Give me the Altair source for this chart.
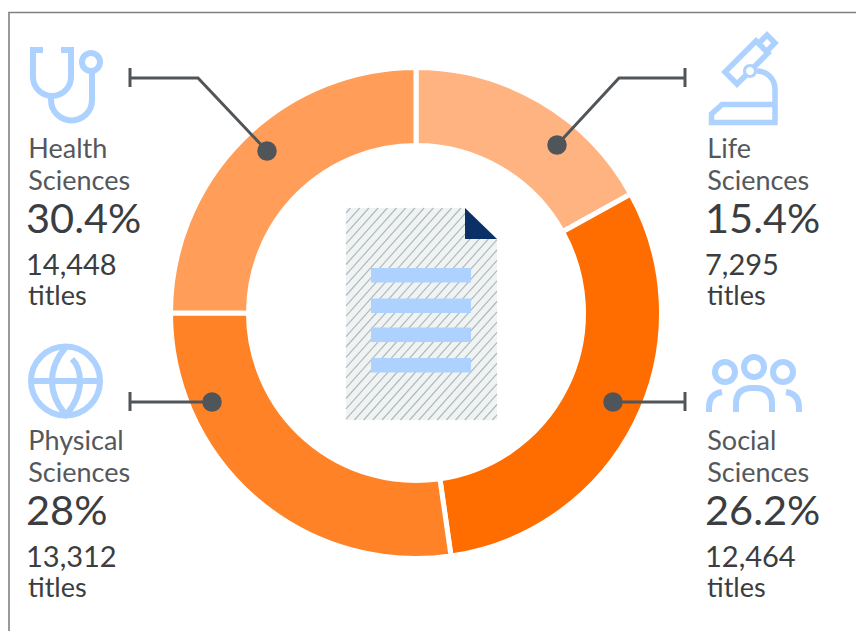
import altair as alt
import pandas as pd

# ---- values ----
categories = ["Life Sciences", "Social Sciences", "Physical Sciences", "Health Sciences"]
percents = ["15.4%", "26.2%", "28%", "30.4%"]
counts = ["7,295", "12,464", "13,312", "14,448"]
# angular span of each ring slice, in degrees, clockwise from 12 o'clock, as drawn
arc_spans = [61.0, 110.8, 98.2, 90.0]
colors = ["#FFB381", "#FF6C00", "#FF8226", "#FF9D59"]

FONT = "Lato"
LABEL_C = "#55585B"
NUM_C = "#3B3D40"
LEADER_C = "#505559"
BLUE = "#ADD2FF"
OX, OY = 8, 8  # page margin: the paths below are in page pixels


def sx(x):
    return x - OX


def sy(y):
    return y - OY


one = pd.DataFrame({"k": [1]})


def path(d, stroke=None, fill=None, width=1.0):
    kw = dict(shape=d, size=4, opacity=1)
    if fill:
        kw.update(filled=True, fill=fill, strokeWidth=0)
    else:
        kw.update(filled=False, stroke=stroke, strokeWidth=width, fillOpacity=0)
    return alt.Chart(one).mark_point(**kw).encode(x=alt.value(-OX), y=alt.value(-OY))


def text(s, x, y, size, color):
    return (
        alt.Chart(pd.DataFrame({"t": [s]}))
        .mark_text(x=sx(x), y=sy(y), fontSize=size, font=FONT, color=color,
                   align="left", baseline="alphabetic")
        .encode(text="t:N")
    )


layers = []

# frame
layers.append(path("M9,640 V12.5 H870", stroke="#808080", width=1.6))

# ring
ring = pd.DataFrame({"cat": categories, "span": arc_spans, "i": [0, 1, 2, 3]})
layers.append(
    alt.Chart(ring)
    .mark_arc(radius=245.5, radius2=167.5, stroke="#FFFFFF", strokeWidth=5)
    .encode(
        theta=alt.Theta("span:Q", stack=True, scale=alt.Scale(domain=[0, 360])),
        order=alt.Order("i:Q"),
        fill=alt.Fill("cat:N", scale=alt.Scale(domain=categories, range=colors), legend=None),
        x=alt.value(sx(416)),
        y=alt.value(sy(313)),
    )
)

# document
doc_poly = [(346, 208), (465, 208), (497, 239), (497, 420), (346, 420)]
layers.append(path("M" + " L".join(f"{a},{b}" for a, b in doc_poly) + " Z", fill="#EFF3F4"))


def clip(p, q):
    t0, t1 = 0.0, 1.0
    n = len(doc_poly)
    for i in range(n):
        a, b = doc_poly[i], doc_poly[(i + 1) % n]
        ex, ey = b[0] - a[0], b[1] - a[1]
        f = lambda r: ex * (r[1] - a[1]) - ey * (r[0] - a[0])
        fp, fq = f(p), f(q)
        if fp < 0 and fq < 0:
            return None
        if fp < 0:
            t0 = max(t0, fp / (fp - fq))
        elif fq < 0:
            t1 = min(t1, fp / (fp - fq))
    if t0 >= t1:
        return None
    return (p[0] + (q[0] - p[0]) * t0, p[1] + (q[1] - p[1]) * t0,
            p[0] + (q[0] - p[0]) * t1, p[1] + (q[1] - p[1]) * t1)


segs = []
slope = 1.12
x0 = 346 - 240
while x0 < 760:
    p, q = (x0, 420.0), (x0 + 212 / slope, 208.0)
    c = clip(p, q)
    if c:
        segs.append(f"M{c[0]:.1f},{c[1]:.1f} L{c[2]:.1f},{c[3]:.1f}")
    x0 += 9.2
layers.append(path(" ".join(segs), stroke="#B4B9BB", width=1.2))
layers.append(path("M465,208 L497,239 L465,239 Z", fill="#0B3068"))
for top in (268, 298.5, 327.5, 358):
    layers.append(path(f"M371,{top} H471 V{top + 14.5} H371 Z", fill=BLUE))

# leaders
leaders = [
    ("M130,68 V87 M130,78 H198 L267,151", 267, 151),
    ("M685,68 V87 M685,78 H619 L557,145", 557, 145),
    ("M130,392 V411 M130,402 H212", 212, 402),
    ("M685,392 V411 M685,402 H613", 613, 402),
]
for d, cx, cy in leaders:
    layers.append(path(d, stroke=LEADER_C, width=3))
    layers.append(
        alt.Chart(one)
        .mark_circle(x=sx(cx), y=sy(cy), opacity=1, color=LEADER_C)
        .encode(size=alt.value(380))
    )

# icons
icons = [
    # stethoscope
    ("M43,50 H33 V77 A19,19 0 0 0 71,77 V50 H61 "
     "M51,96 V100 A20.5,20.5 0 0 0 92,100 V72 "
     "M100,62 A9,9 0 1 0 82,62 A9,9 0 1 0 100,62", 6),
    # microscope
    ("M725,72 L737,84 L768,53 L756,41 Z M760,42 L767,35 L775,43 L768,50 "
     "M757,71 A18,18 0 0 1 775,89 V122.5 H711.5 V114 L722,104.5 H775", 5.5),
    # globe
    ("M100,381 A34.5,34.5 0 1 0 31,381 A34.5,34.5 0 1 0 100,381 M31,381 H100 "
     "M72,359 C78,365 80,373 80,381 C80,395 73,407 66,415 C59,407 52,395 52,381 C52,367 59,355 66,347", 6),
    # people
    ("M735,372 A10,10 0 1 0 715,372 A10,10 0 1 0 735,372 "
     "M764,367 A10,10 0 1 0 744,367 A10,10 0 1 0 764,367 "
     "M793,372 A10,10 0 1 0 773,372 A10,10 0 1 0 793,372 "
     "M736,412 V404 Q736,388 752,388 H756 Q772,388 772,404 V412 "
     "M709,412 V407 Q709,394 722,392 M799,412 V407 Q799,394 786,392", 6),
]
for d, w in icons:
    layers.append(path(d, stroke=BLUE, width=w))
# microscope pivot: a ring with a white middle, over the tube
layers.append(path("M757,71 A7,7 0 1 0 743,71 A7,7 0 1 0 757,71", fill=BLUE))
layers.append(path("M754,71 A4,4 0 1 0 746,71 A4,4 0 1 0 754,71", fill="#FFFFFF"))

# text blocks: (category index, left x, first baseline)
blocks = [(3, 29, 158), (0, 708, 158), (2, 29, 450), (1, 708, 450)]
for i, x, y in blocks:
    first, second = categories[i].split(" ")
    layers.append(text(first, x - 0.7, y, 27, LABEL_C))
    layers.append(text(second, x - 0.7, y + 32, 27, LABEL_C))
    layers.append(text(percents[i], x - 3, y + 75, 41.5, NUM_C))
    layers.append(text(counts[i], x - 3, y + 117, 29, NUM_C))
    layers.append(text("titles", x - 1, y + 147, 27, NUM_C))

chart = (
    alt.layer(*layers)
    .properties(width=848, height=623, padding=0, autosize=alt.AutoSizeParams(type="none"))
    .configure_view(stroke=None)
)
chart.save("out.html", embed_options={"renderer": "svg", "actions": False})
